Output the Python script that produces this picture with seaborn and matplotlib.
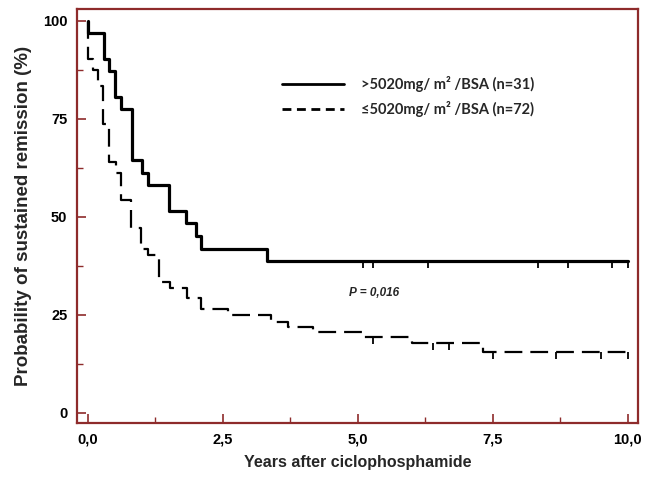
import numpy as np
import pandas as pd
import matplotlib
matplotlib.use('Agg')
import matplotlib.pyplot as plt
import seaborn as sns
from matplotlib.lines import Line2D

# Kaplan-Meier steps (years, % in remission after event)
high_times = [0.00, 0.30, 0.39, 0.50, 0.61, 0.81, 1.01, 1.12, 1.51, 1.81, 2.01, 2.10, 3.31]
high_surv = [96.8, 90.3, 87.1, 80.6, 77.4, 64.5, 61.3, 58.1, 51.6, 48.4, 45.2, 41.9, 38.7]
high_censor = [5.09, 5.28, 6.30, 8.33, 8.89, 9.70, 10.0]

low_times = [0.00, 0.10, 0.19, 0.28, 0.40, 0.52, 0.62, 0.80, 0.99, 1.12, 1.32, 1.52,
             1.83, 2.10, 2.60, 3.40, 3.70, 4.17, 5.10, 6.00, 7.32]
low_surv = [90.3, 87.5, 83.3, 73.6, 63.9, 61.1, 54.2, 47.2, 41.7, 40.3, 33.3, 31.9,
            29.2, 26.4, 25.0, 23.3, 22.0, 20.6, 19.3, 17.8, 15.6]
low_censor = [5.28, 6.39, 6.69, 7.50, 8.68, 9.51, 10.0]

labels = ['>5020mg/ m\u00b2 /BSA (n=31)', '\u22645020mg/ m\u00b2 /BSA (n=72)']
x_ticks = [0, 2.5, 5, 7.5, 10]
y_ticks = [0, 25, 50, 75, 100]
p_text = 'P = 0,016'

frame_red = '#8e2b2b'

sns.set_style('ticks')
plt.rcParams['font.family'] = ['Liberation Sans', 'DejaVu Sans']


def km_frame(times, surv, end=10.0):
    t = [0.0] + list(times) + [end]
    s = [100.0] + list(surv) + [surv[-1]]
    return pd.DataFrame({'t': t, 's': s})


def surv_at(times, surv, pts):
    t = np.array([0.0] + list(times))
    s = np.array([100.0] + list(surv))
    idx = np.searchsorted(t, pts, side='right') - 1
    return s[idx]


fig = plt.figure(figsize=(6.46, 4.8), dpi=100)
ax = fig.add_axes([77 / 646, 57 / 480, 561 / 646, 414 / 480])

high_df = km_frame(high_times, high_surv)
low_df = km_frame(low_times, low_surv)

sns.lineplot(data=high_df, x='t', y='s', ax=ax, color='black', lw=2.3,
             estimator=None, sort=False, drawstyle='steps-post')
sns.lineplot(data=low_df, x='t', y='s', ax=ax, color='black', lw=1.6,
             estimator=None, sort=False, drawstyle='steps-post')
ax.lines[-1].set_dashes((8.0, 3.6))

# censoring marks (ticks hanging below the curve)
ax.plot(high_censor, surv_at(high_times, high_surv, high_censor), ls='none',
        marker=3, ms=5, mew=1.3, color='black')
ax.plot(low_censor, surv_at(low_times, low_surv, low_censor), ls='none',
        marker=3, ms=5, mew=1.3, color='black')

ax.set_xlim(-0.2, 10.19)
ax.set_ylim(-2.55, 103)

ax.set_xticks(x_ticks)
ax.set_xticklabels([f'{v:.1f}'.replace('.', ',') for v in x_ticks])
ax.set_xticks([1.25, 3.75, 6.25, 8.75], minor=True)
ax.set_yticks(y_ticks)
ax.set_yticklabels([str(v) for v in y_ticks])
ax.set_yticks([12.5, 37.5, 62.5, 87.5], minor=True)

ax.tick_params(which='major', direction='in', length=6.5, width=1.2,
               color=frame_red, labelsize=10.5, pad=7, labelcolor='black')
ax.tick_params(which='minor', direction='in', length=4, width=1.0, color=frame_red)
for lab in ax.get_xticklabels() + ax.get_yticklabels():
    lab.set_fontweight('bold')

for side in ['left', 'right', 'top', 'bottom']:
    ax.spines[side].set_visible(True)
    ax.spines[side].set_color(frame_red)
    ax.spines[side].set_linewidth(1.6)

ax.set_xlabel('Years after ciclophosphamide', fontsize=11.5, fontweight='bold', labelpad=6)
ax.set_ylabel('Probability of sustained remission (%)', fontsize=13.5,
              fontweight='bold', labelpad=8)

ax.text(5.31, 30.6, p_text, fontsize=8.5, fontweight='bold', style='italic',
        ha='center', va='center')

handles = [Line2D([], [], color='black', lw=2.0),
           Line2D([], [], color='black', lw=2.0, dashes=(3.2, 2.0))]
ax.legend(handles, labels, loc='upper left', bbox_to_anchor=(0.352, 0.856),
          frameon=False, borderpad=0, handlelength=4.3, handletextpad=1.1,
          labelspacing=0.6, prop={'family': 'Lato', 'weight': 'bold', 'size': 10.5})

fig.savefig('out.png', dpi=100)
